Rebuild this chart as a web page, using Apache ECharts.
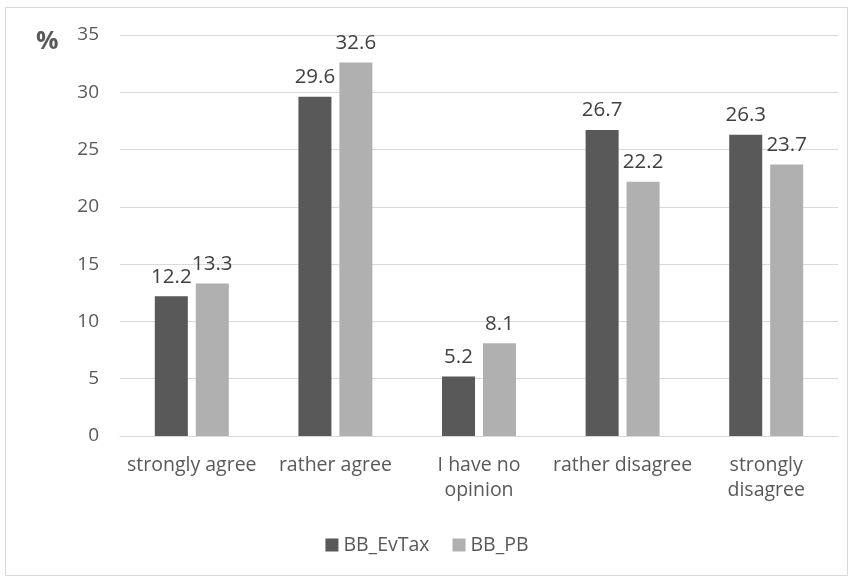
<!DOCTYPE html>
<html><head><meta charset="utf-8">
<script src="https://cdn.jsdelivr.net/npm/echarts@6/dist/echarts.min.js"></script>
<style>
html,body{margin:0;padding:0;background:#fff;}
#frame{position:absolute;left:5px;top:7px;width:843px;height:569px;border:1px solid #d9d9d9;box-sizing:border-box;}
#c{position:absolute;left:0;top:0;width:854px;height:580px;}
</style></head>
<body>
<div id="frame"></div>
<div id="c"></div>
<script>
const categories = ['strongly agree', 'rather agree', 'I have no\nopinion', 'rather disagree', 'strongly\ndisagree'];
const evTax = [12.2, 29.6, 5.2, 26.7, 26.3];
const pb = [13.3, 32.6, 8.1, 22.2, 23.7];
const seriesNames = ['BB_EvTax', 'BB_PB'];
const yTicks = {min: 0, max: 35, interval: 5};

const font = '"Open Sans", "Noto Sans", sans-serif';
const chart = echarts.init(document.getElementById('c'), null, {renderer: 'canvas'});
const labelStyle = {show: true, position: 'top', color: '#404040', fontSize: 20.5, fontFamily: font, distance: 9};
chart.setOption({
  animation: false,
  textStyle: {fontFamily: font},
  graphic: [{type: 'text', left: 36, top: 29, style: {text: '%', fontSize: 25, fontWeight: 'bold', fill: '#595959', fontFamily: font}}],
  legend: {
    bottom: 20, left: 'center', itemWidth: 13, itemHeight: 13, itemGap: 23,
    icon: 'rect',
    textStyle: {color: '#595959', fontSize: 19.5, fontFamily: font},
    data: seriesNames
  },
  grid: {left: 120, right: 16, top: 35, bottom: 144, containLabel: false},
  xAxis: {
    type: 'category', data: categories,
    axisLine: {lineStyle: {color: '#d9d9d9', width: 1}},
    axisTick: {show: false},
    axisLabel: {color: '#595959', fontSize: 19.5, fontFamily: font, margin: 17, lineHeight: 25, interval: 0}
  },
  yAxis: {
    type: 'value', min: yTicks.min, max: yTicks.max, interval: yTicks.interval,
    axisLine: {show: false}, axisTick: {show: false},
    splitLine: {lineStyle: {color: '#d9d9d9', width: 1}},
    axisLabel: {color: '#595959', fontSize: 19, fontFamily: font, margin: 21}
  },
  series: [
    {name: seriesNames[0], type: 'bar', data: evTax, barWidth: '23%', barGap: '24%',
     itemStyle: {color: '#595959'}, label: labelStyle},
    {name: seriesNames[1], type: 'bar', data: pb, barWidth: '23%',
     itemStyle: {color: '#b0b0b0'}, label: labelStyle}
  ]
});
</script>
</body></html>
